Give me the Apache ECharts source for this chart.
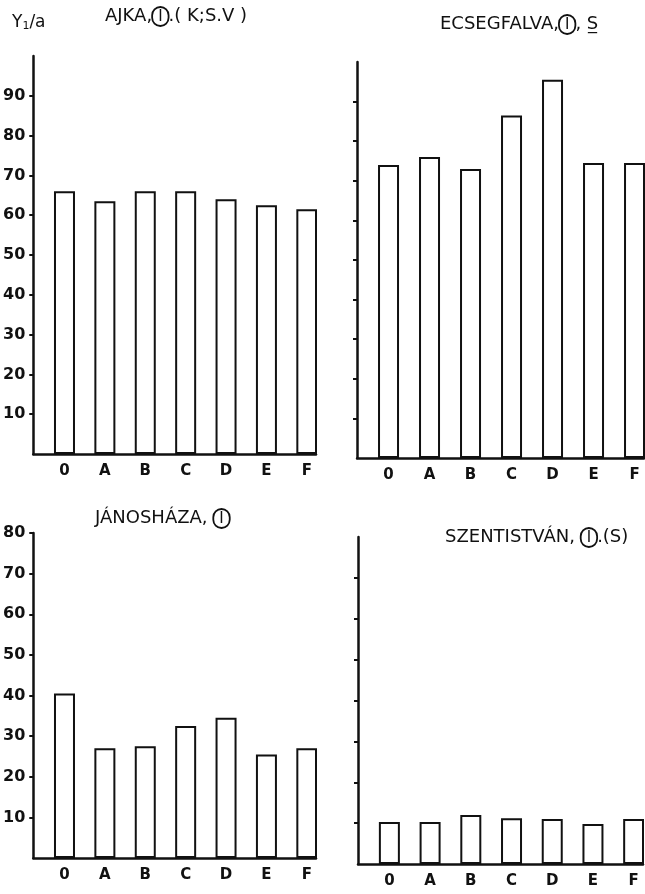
<!DOCTYPE html>
<html>
<head>
<meta charset="utf-8">
<style>
  html, body { margin: 0; padding: 0; background: #fff; }
  #chart { width: 645px; height: 894px; }
</style>
<script src="https://cdn.jsdelivr.net/npm/echarts@6/dist/echarts.min.js"></script>
</head>
<body>
<div id="chart"></div>
<script>
// Treatments along the x axis
const categories = ['0', 'A', 'B', 'C', 'D', 'E', 'F'];

// Yield per site (Y1/a)
const ajka = [66, 63.5, 66, 66, 64, 62.5, 61.5];
const ecsegfalva = [74, 76, 73, 86.5, 95.5, 74.5, 74.5];
const janoshaza = [40.5, 27, 27.5, 32.5, 34.5, 25.5, 27];
const szentistvan = [10.3, 10.3, 12, 11.2, 11, 9.8, 11];

// Tick labels on the value axes
const ticksTop = [10, 20, 30, 40, 50, 60, 70, 80, 90];
const ticksBottom = [10, 20, 30, 40, 50, 60, 70, 80];

const FONT = 'DejaVu Sans';
const INK = '#111';

const chart = echarts.init(document.getElementById('chart'), null, { renderer: 'canvas' });

const grids = [
  { left: 31, top: 56, width: 285, height: 398 },
  { left: 357, top: 62, width: 287, height: 396 },
  { left: 32, top: 533, width: 284, height: 325 },
  { left: 358, top: 537, width: 285, height: 327 }
];

const panels = [
  { data: ajka, max: 100, ticks: ticksTop, labels: true },
  { data: ecsegfalva, max: 100, ticks: ticksTop, labels: false },
  { data: janoshaza, max: 80, ticks: ticksBottom, labels: true },
  { data: szentistvan, max: 80, ticks: ticksBottom.slice(0, 7), labels: false }
];

const xAxes = panels.map((p, i) => ({
  type: 'category',
  gridIndex: i,
  data: categories,
  boundaryGap: true,
  axisLine: { show: true, lineStyle: { color: INK, width: 2.5 } },
  axisTick: { show: false },
  axisLabel: {
    color: INK, fontFamily: FONT, fontWeight: 'bold', fontSize: 15,
    margin: 10, padding: [0, 0, 0, 22], interval: 0
  }
}));

const yAxes = panels.map((p, i) => ({
  type: 'value',
  gridIndex: i,
  min: 0,
  max: p.max,
  interval: 10,
  splitLine: { show: false },
  axisLine: { show: true, lineStyle: { color: INK, width: 2.5 } },
  axisTick: { show: true, length: 4, customValues: p.ticks, lineStyle: { color: INK, width: 2 } },
  axisLabel: {
    show: p.labels,
    customValues: p.ticks,
    color: INK, fontFamily: FONT, fontWeight: 'bold', fontSize: 16, margin: 8
  }
}));

const series = [];
panels.forEach((p, i) => {
  // empty slot that shifts each bar to the right half of its band
  series.push({
    type: 'bar', xAxisIndex: i, yAxisIndex: i,
    data: categories.map(() => null),
    barWidth: 21, barGap: '5%', silent: true,
    itemStyle: { color: 'transparent' }
  });
  series.push({
    type: 'bar', xAxisIndex: i, yAxisIndex: i,
    data: p.data,
    barWidth: 21, barGap: '5%', silent: true,
    itemStyle: { color: '#fff', borderColor: INK, borderWidth: 2 }
  });
});

const titleRich = {
  c: {
    fontFamily: FONT, fontSize: 15, color: INK,
    borderColor: INK, borderWidth: 1.8, borderRadius: 12, padding: [3, 6, 1, 6]
  }
};
const titleStyle = { color: INK, fontFamily: FONT, fontSize: 18, fontWeight: 'normal', rich: titleRich };

chart.setOption({
  animation: false,
  backgroundColor: '#fff',
  title: [
    {
      text: '{y|Y}{s|1}{y|/a}', left: 7, top: 8,
      textStyle: {
        rich: {
          y: { fontFamily: FONT, fontSize: 17, fontWeight: 'normal', color: INK },
          s: { fontFamily: FONT, fontSize: 11, fontWeight: 'normal', color: INK, verticalAlign: 'bottom', padding: [8, 0, 0, 0] }
        }
      }
    },
    { text: 'AJKA,{c|I}.( K;S.V )', left: 100, top: 2, textStyle: titleStyle },
    { text: 'ECSEGFALVA,{c|I}, S\u0332', left: 435, top: 10, textStyle: titleStyle },
    { text: 'JÁNOSHÁZA, {c|I}', left: 90, top: 504, textStyle: titleStyle },
    { text: 'SZENTISTVÁN, {c|I}.(S)', left: 440, top: 523, textStyle: titleStyle }
  ],
  grid: grids,
  xAxis: xAxes,
  yAxis: yAxes,
  series: series
});
</script>
</body>
</html>
